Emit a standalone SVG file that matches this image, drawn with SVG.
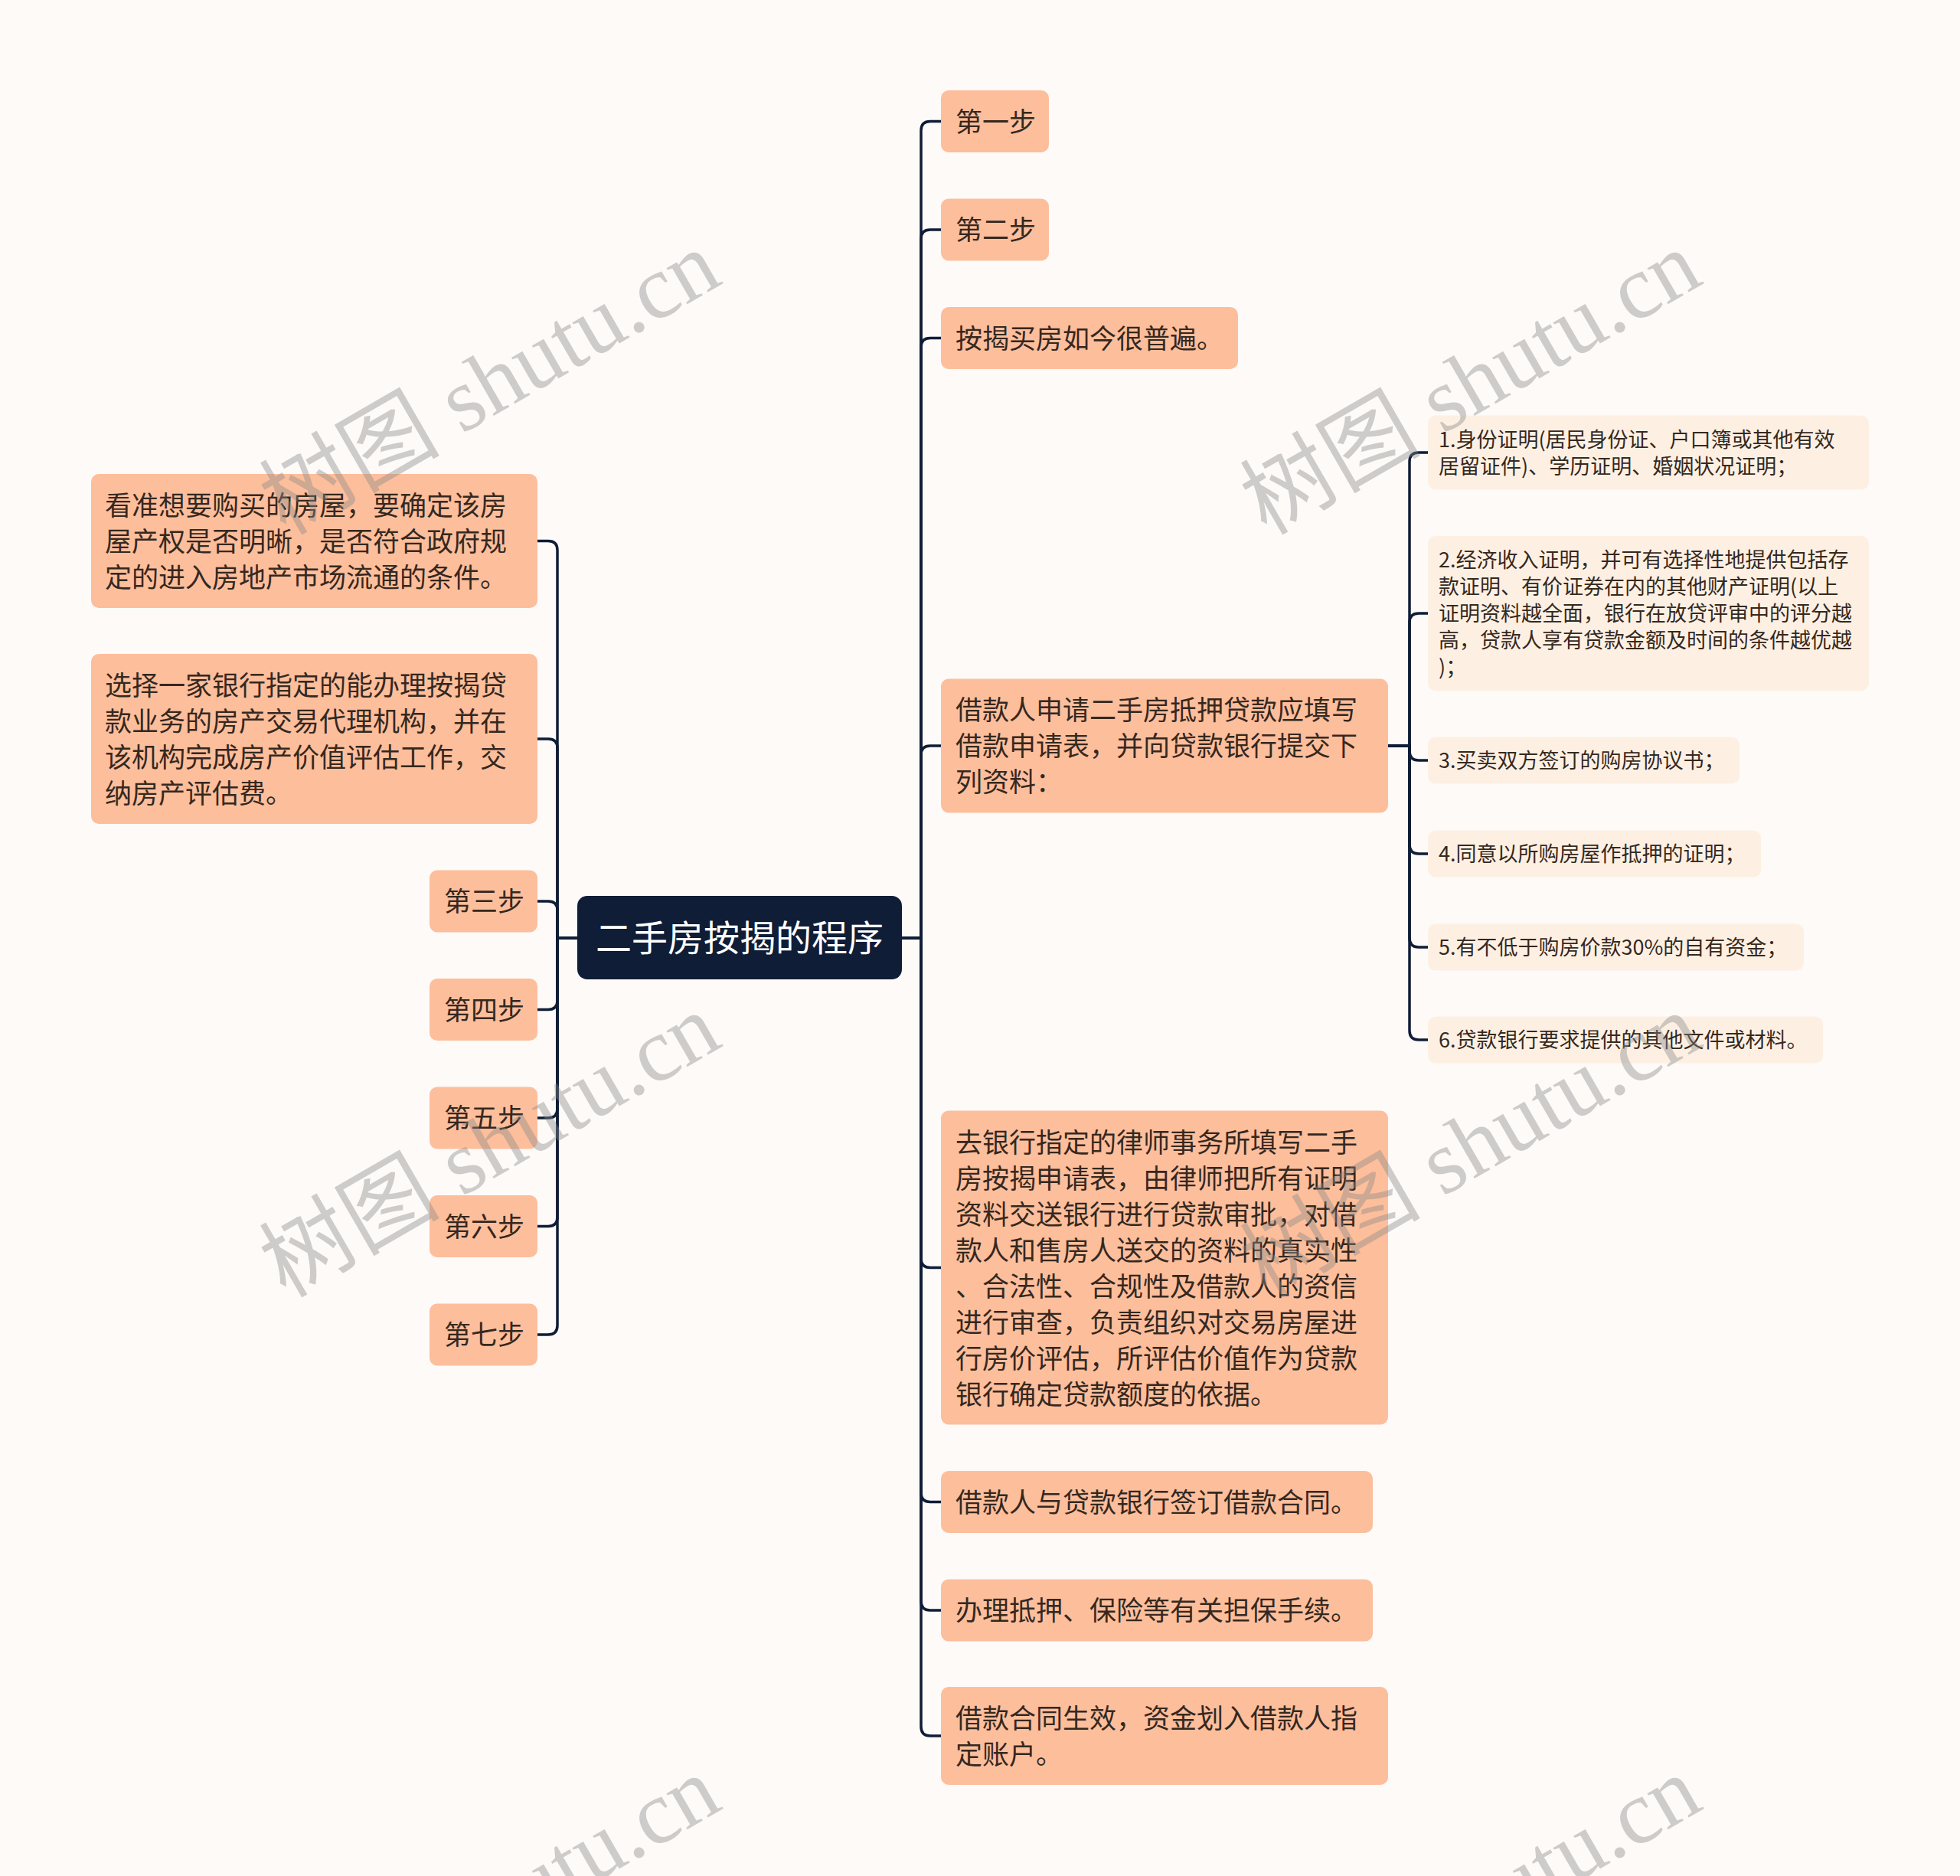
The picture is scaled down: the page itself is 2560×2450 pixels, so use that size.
<svg xmlns="http://www.w3.org/2000/svg" width="2560" height="2450" viewBox="0 0 2560 2450">
<style>
.bg{fill:#FDFAF8}
.n{fill:#FDBE9C}
.s{fill:#FDF0E3}
.root{fill:#0F1D36}
.t{font-family:"Noto Sans CJK SC","Noto Sans",sans-serif;font-size:35px;fill:#35281E}
.ts{font-family:"Noto Sans CJK SC","Noto Sans",sans-serif;font-size:27px;fill:#35281E}
.tr{font-family:"Noto Sans CJK SC","Noto Sans",sans-serif;font-size:47px;fill:#FFFFFF}
.c{fill:none;stroke:#0F1D36;stroke-width:3.5;stroke-linecap:round}
.wm{font-family:"Liberation Serif","Noto Sans CJK SC",serif;font-size:118px;fill:#888888;opacity:0.4}
</style>
<rect class="bg" x="0" y="0" width="2560" height="2450"/>

<g id="connectors">
<path class="c" d="M1178 1225 H1203 V170.5 Q1203 158.5 1215 158.5 H1229"/>
<path class="c" d="M1178 1225 H1203 V312 Q1203 300 1215 300 H1229"/>
<path class="c" d="M1178 1225 H1203 V453.5 Q1203 441.5 1215 441.5 H1229"/>
<path class="c" d="M1178 1225 H1203 V986 Q1203 974 1215 974 H1229"/>
<path class="c" d="M1178 1225 H1203 V1643.5 Q1203 1655.5 1215 1655.5 H1229"/>
<path class="c" d="M1178 1225 H1203 V1949.5 Q1203 1961.5 1215 1961.5 H1229"/>
<path class="c" d="M1178 1225 H1203 V2091 Q1203 2103 1215 2103 H1229"/>
<path class="c" d="M1178 1225 H1203 V2255 Q1203 2267 1215 2267 H1229"/>
<path class="c" d="M754 1225 H728 V718.5 Q728 706.5 716 706.5 H702"/>
<path class="c" d="M754 1225 H728 V977 Q728 965 716 965 H702"/>
<path class="c" d="M754 1225 H728 V1189 Q728 1177 716 1177 H702"/>
<path class="c" d="M754 1225 H728 V1306.5 Q728 1318.5 716 1318.5 H702"/>
<path class="c" d="M754 1225 H728 V1448 Q728 1460 716 1460 H702"/>
<path class="c" d="M754 1225 H728 V1589.5 Q728 1601.5 716 1601.5 H702"/>
<path class="c" d="M754 1225 H728 V1731 Q728 1743 716 1743 H702"/>
<path class="c" d="M1813 974 H1841 V603 Q1841 591 1853 591 H1865"/>
<path class="c" d="M1813 974 H1841 V813 Q1841 801 1853 801 H1865"/>
<path class="c" d="M1813 974 H1841 V981 Q1841 993 1853 993 H1865"/>
<path class="c" d="M1813 974 H1841 V1103 Q1841 1115 1853 1115 H1865"/>
<path class="c" d="M1813 974 H1841 V1225 Q1841 1237 1853 1237 H1865"/>
<path class="c" d="M1813 974 H1841 V1346 Q1841 1358 1853 1358 H1865"/>
</g>

<g id="root">
<rect class="root" x="754" y="1170" width="424" height="109" rx="13"/>
<text class="tr" x="966" y="1242" text-anchor="middle">二手房按揭的程序</text>
</g>

<g id="r1"><rect class="n" x="1229" y="118" width="141" height="81" rx="10"/><text class="t" x="1248" y="171.5">第一步</text></g>
<g id="r2"><rect class="n" x="1229" y="259.5" width="141" height="81" rx="10"/><text class="t" x="1248" y="313">第二步</text></g>
<g id="r3"><rect class="n" x="1229" y="401" width="388" height="81" rx="10"/><text class="t" x="1248" y="454.5">按揭买房如今很普遍。</text></g>
<g id="r4"><rect class="n" x="1229" y="886.5" width="584" height="175" rx="10"/>
<text class="t" x="1248" y="940">借款人申请二手房抵押贷款应填写</text>
<text class="t" x="1248" y="987">借款申请表，并向贷款银行提交下</text>
<text class="t" x="1248" y="1034">列资料：</text></g>
<g id="r5"><rect class="n" x="1229" y="1450.5" width="584" height="410" rx="10"/>
<text class="t" x="1248" y="1504.5">去银行指定的律师事务所填写二手</text>
<text class="t" x="1248" y="1551.5">房按揭申请表，由律师把所有证明</text>
<text class="t" x="1248" y="1598.5">资料交送银行进行贷款审批，对借</text>
<text class="t" x="1248" y="1645.5">款人和售房人送交的资料的真实性</text>
<text class="t" x="1248" y="1692.5">、合法性、合规性及借款人的资信</text>
<text class="t" x="1248" y="1739.5">进行审查，负责组织对交易房屋进</text>
<text class="t" x="1248" y="1786.5">行房价评估，所评估价值作为贷款</text>
<text class="t" x="1248" y="1833.5">银行确定贷款额度的依据。</text></g>
<g id="r6"><rect class="n" x="1229" y="1921" width="564" height="81" rx="10"/><text class="t" x="1248" y="1974.5">借款人与贷款银行签订借款合同。</text></g>
<g id="r7"><rect class="n" x="1229" y="2062.5" width="564" height="81" rx="10"/><text class="t" x="1248" y="2116">办理抵押、保险等有关担保手续。</text></g>
<g id="r8"><rect class="n" x="1229" y="2203" width="584" height="128" rx="10"/>
<text class="t" x="1248" y="2256.5">借款合同生效，资金划入借款人指</text>
<text class="t" x="1248" y="2303.5">定账户。</text></g>

<g id="s1"><rect class="s" x="1865" y="542.5" width="576" height="97" rx="10"/>
<text class="ts" x="1879" y="583.5">1.身份证明(居民身份证、户口簿或其他有效</text>
<text class="ts" x="1879" y="618.5">居留证件)、学历证明、婚姻状况证明；</text></g>
<g id="s2"><rect class="s" x="1865" y="700" width="576" height="202" rx="10"/>
<text class="ts" x="1879" y="741">2.经济收入证明，并可有选择性地提供包括存</text>
<text class="ts" x="1879" y="776">款证明、有价证券在内的其他财产证明(以上</text>
<text class="ts" x="1879" y="811">证明资料越全面，银行在放贷评审中的评分越</text>
<text class="ts" x="1879" y="846">高，贷款人享有贷款金额及时间的条件越优越</text>
<text class="ts" x="1879" y="881">)；</text></g>
<g id="s3"><rect class="s" x="1865" y="962.5" width="407" height="61" rx="10"/><text class="ts" x="1879" y="1003">3.买卖双方签订的购房协议书；</text></g>
<g id="s4"><rect class="s" x="1865" y="1084.5" width="435" height="61" rx="10"/><text class="ts" x="1879" y="1125">4.同意以所购房屋作抵押的证明；</text></g>
<g id="s5"><rect class="s" x="1865" y="1206.5" width="491" height="61" rx="10"/><text class="ts" x="1879" y="1247">5.有不低于购房价款30%的自有资金；</text></g>
<g id="s6"><rect class="s" x="1865" y="1327.5" width="516" height="61" rx="10"/><text class="ts" x="1879" y="1368">6.贷款银行要求提供的其他文件或材料。</text></g>

<g id="l1"><rect class="n" x="119" y="619" width="583" height="175" rx="10"/>
<text class="t" x="137" y="672.5">看准想要购买的房屋，要确定该房</text>
<text class="t" x="137" y="719.5">屋产权是否明晰，是否符合政府规</text>
<text class="t" x="137" y="766.5">定的进入房地产市场流通的条件。</text></g>
<g id="l2"><rect class="n" x="119" y="854" width="583" height="222" rx="10"/>
<text class="t" x="137" y="907.5">选择一家银行指定的能办理按揭贷</text>
<text class="t" x="137" y="954.5">款业务的房产交易代理机构，并在</text>
<text class="t" x="137" y="1001.5">该机构完成房产价值评估工作，交</text>
<text class="t" x="137" y="1048.5">纳房产评估费。</text></g>
<g id="l3"><rect class="n" x="561" y="1136.5" width="141" height="81" rx="10"/><text class="t" x="580" y="1190">第三步</text></g>
<g id="l4"><rect class="n" x="561" y="1278" width="141" height="81" rx="10"/><text class="t" x="580" y="1331.5">第四步</text></g>
<g id="l5"><rect class="n" x="561" y="1419.5" width="141" height="81" rx="10"/><text class="t" x="580" y="1473">第五步</text></g>
<g id="l6"><rect class="n" x="561" y="1561" width="141" height="81" rx="10"/><text class="t" x="580" y="1614.5">第六步</text></g>
<g id="l7"><rect class="n" x="561" y="1702.5" width="141" height="81" rx="10"/><text class="t" x="580" y="1756">第七步</text></g>

<g id="watermark">
<text class="wm" transform="translate(373,700) rotate(-30)">树图 shutu.cn</text>
<text class="wm" transform="translate(1654,700) rotate(-30)">树图 shutu.cn</text>
<text class="wm" transform="translate(373,1696) rotate(-30)">树图 shutu.cn</text>
<text class="wm" transform="translate(1654,1696) rotate(-30)">树图 shutu.cn</text>
<text class="wm" transform="translate(373,2692) rotate(-30)">树图 shutu.cn</text>
<text class="wm" transform="translate(1654,2692) rotate(-30)">树图 shutu.cn</text>
</g>
</svg>
